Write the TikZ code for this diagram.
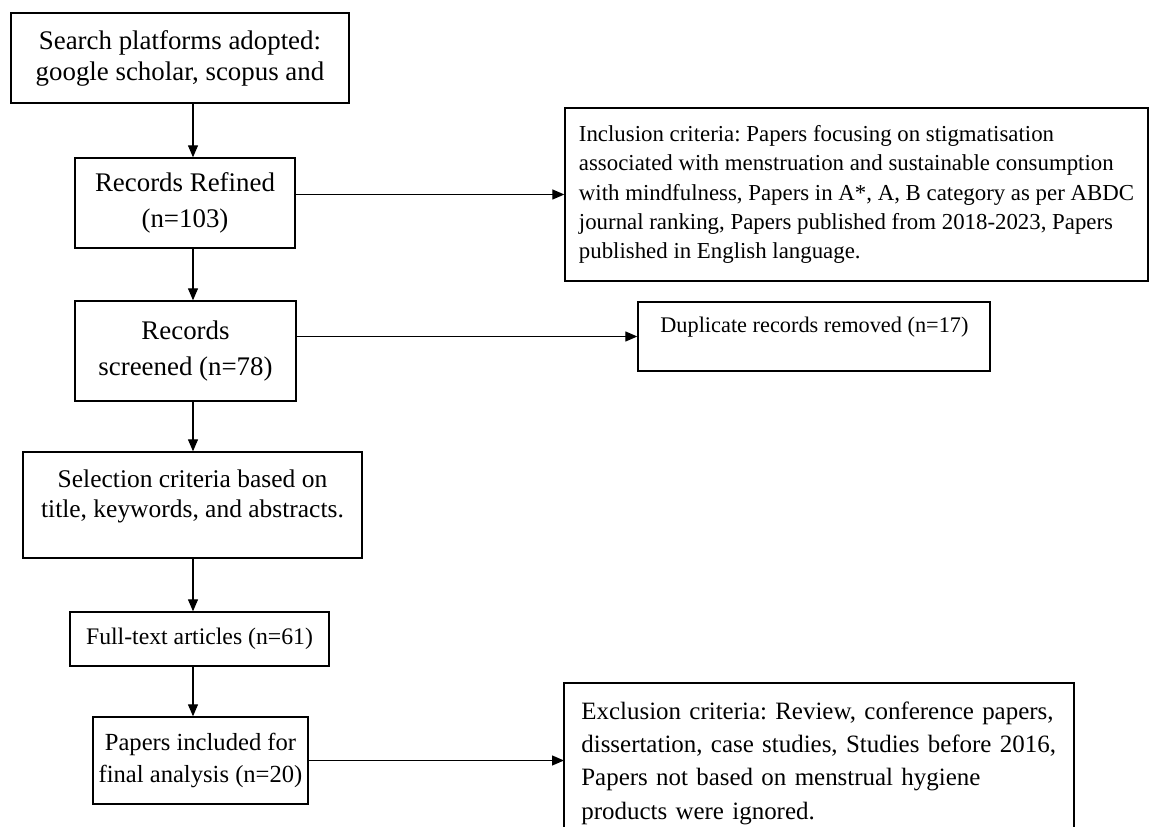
\documentclass[tikz,border=0pt]{standalone}
\usepackage{fontspec}
\setmainfont{Liberation Serif}
\frenchspacing
\usetikzlibrary{arrows.meta}

\begin{document}
\begin{tikzpicture}[x=0.02cm, y=-0.02cm,
    box/.style={draw, line width=0.8pt, inner sep=0pt, align=center},
    arr/.style={-{Triangle[length=0.24cm, width=0.2cm]}, line width=0.7pt}]
    \useasboundingbox (0,0) rectangle (1150,827);
    \coordinate (spine) at (193,0);

    % Main column
    \node[box, minimum width=6.76cm, minimum height=1.8cm, font=\fontsize{15.3}{17.6}\selectfont] (search) at (180,58)
        {Search platforms adopted:\\google scholar, scopus and};
    \node[box, minimum width=4.4cm, minimum height=1.8cm, font=\fontsize{15.3}{20.5}\selectfont] (refined) at (185,203)
        {Records Refined\\(n=103)};
    \node[box, minimum width=4.42cm, minimum height=2cm, font=\fontsize{15.3}{20.5}\selectfont] (screened) at (185.5,351)
        {Records\\screened (n=78)};
    \node[box, minimum width=6.78cm, minimum height=2.12cm] (select) at (192.5,505) {};
    \node[align=center, inner sep=0pt, font=\fontsize{14.5}{17.1}\selectfont] (selecttext) at (192.5,496)
        {Selection criteria based on\\title, keywords, and abstracts.};
    \node[box, minimum width=5.18cm, minimum height=1.08cm, font=\fontsize{13.5}{16}\selectfont] (fulltext) at (199.5,639)
        {Full-text articles (n=61)};
    \node[box, minimum width=4.3cm, minimum height=1.74cm, font=\fontsize{14}{18.2}\selectfont] (included) at (200.5,760.5)
        {Papers included for\\final analysis (n=20)};

    % Side boxes
    \node[box, minimum width=11.66cm, minimum height=3.46cm, align=left,
        font=\fontsize{13}{16.6}\selectfont] (incl) at (856.5,194.5)
        {Inclusion criteria: Papers focusing on stigmatisation\\
         associated with menstruation and sustainable consumption\\
         with mindfulness, Papers in A*, A, B category as per ABDC\\
         journal ranking, Papers published from 2018-2023, Papers\\
         published in English language.};
    \node[box, minimum width=7.04cm, minimum height=1.38cm] (dup) at (814,336.5) {};
    \node[anchor=base west, inner sep=0pt, font=\fontsize{12.7}{15}\selectfont] (duptext) at (660,333)
        {Duplicate records removed (n=17)};

    % Exclusion box, open at the bottom
    \coordinate (exclNW) at (564,683);
    \coordinate (exclSE) at (1074,827);
    \draw[line width=0.8pt] (exclNW |- exclSE) -- (exclNW) -| (exclSE);
    \node[anchor=north west, inner sep=0pt, text width=9.7cm, align=left,
        font=\fontsize{14.2}{18.8}\selectfont] (excl) at (581,702)
        {Exclusion criteria: Review, conference papers,\\
         dissertation, case studies, Studies before 2016,\\
         Papers not based on menstrual hygiene\\
         products were ignored.};

    % Arrows
    \foreach \a/\b in {search/refined, refined/screened, screened/select, select/fulltext, fulltext/included}
        \draw[arr] (\a.south -| spine) -- (\b.north -| spine);
    \draw[arr] (incl.west -| refined.east) -- (incl.west);
    \draw[arr] (dup.west -| screened.east) -- (dup.west);
    \draw[arr] (included.east) -- (included.east -| exclNW);
\end{tikzpicture}
\end{document}
